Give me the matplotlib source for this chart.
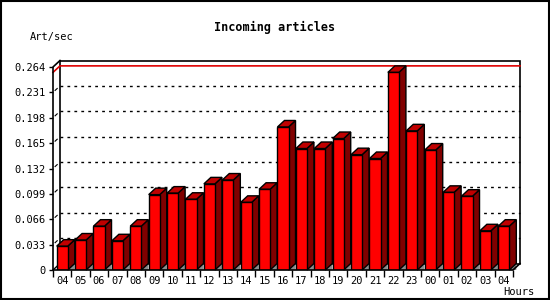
import matplotlib
matplotlib.use("Agg")
import matplotlib.pyplot as plt
from matplotlib.patches import Polygon, Rectangle
from matplotlib.lines import Line2D

# Data
hours = ["04", "05", "06", "07", "08", "09", "10", "11", "12", "13", "14", "15",
         "16", "17", "18", "19", "20", "21", "22", "23", "00", "01", "02", "03", "04"]
rate = [0.031, 0.039, 0.057, 0.038, 0.057, 0.098, 0.100, 0.092, 0.112, 0.117,
        0.088, 0.105, 0.186, 0.158, 0.158, 0.171, 0.150, 0.145, 0.257, 0.181,
        0.156, 0.101, 0.096, 0.051, 0.057]
yticks = [0, 0.033, 0.066, 0.099, 0.132, 0.165, 0.198, 0.231, 0.264]
ytick_labels = ["0", "0.033", "0.066", "0.099", "0.132", "0.165", "0.198", "0.231", "0.264"]

FRONT = "#ff0000"
TOP = "#c00000"
SIDE = "#800000"
FLOOR = "#8c8c8c"
mono = "DejaVu Sans Mono"

W, H = 550, 300
fig = plt.figure(figsize=(W / 100, H / 100), dpi=100)
fig.patch.set_facecolor("white")

# front plane of the 3d box, in pixels
x0, x1, y0, y1 = 53, 513, 270, 67
ax = fig.add_axes([x0 / W, 1 - y0 / H, (x1 - x0) / W, (y0 - y1) / H])
ax.set_facecolor("none")
n = len(rate)
ax.set_xlim(-0.5, n - 0.5)
ax.set_ylim(0, yticks[-1])
for s in ax.spines.values():
    s.set_visible(False)

# depth offset (pixels -> data units)
depth_px_x, depth_px_y = 7, 6.5
dx = depth_px_x * n / (x1 - x0)
dy = depth_px_y * yticks[-1] / (y0 - y1)
xl, xr = -0.5, n - 0.5
ytop = yticks[-1]

# back wall
ax.add_patch(Polygon([(xl + dx, dy), (xr + dx, dy), (xr + dx, ytop + dy), (xl + dx, ytop + dy)],
                     closed=True, facecolor="white", edgecolor="black", lw=1.2,
                     clip_on=False, zorder=0))
# grid lines on back wall
for yv in yticks[1:-1]:
    ax.add_line(Line2D([xl + dx, xr + dx], [yv + dy, yv + dy], color="black",
                       lw=1, ls=(0, (2, 3)), clip_on=False, zorder=1))
    ax.add_line(Line2D([xl + dx * 0.3, xl + dx * 0.6], [yv + dy * 0.3, yv + dy * 0.6],
                       color="black", lw=0.8, clip_on=False, zorder=1))
# max line
mx = max(rate)
ax.add_line(Line2D([xl, xl + dx, xr + dx], [mx, mx + dy, mx + dy], color="#e00000",
                   lw=1.2, clip_on=False, zorder=1))

# 3d bars
w = 0.6
for i, v in enumerate(rate):
    a, b = i - w / 2, i + w / 2
    ax.add_patch(Polygon([(b, 0), (b + dx, dy), (b + dx, 0)], closed=True,
                         facecolor=FLOOR, edgecolor="none", zorder=2, clip_on=False))
    ax.add_patch(Polygon([(b, 0), (b + dx, dy), (b + dx, v + dy), (b, v)], closed=True,
                         facecolor=SIDE, edgecolor="black", lw=1, zorder=3, clip_on=False))
    ax.add_patch(Polygon([(a, v), (a + dx, v + dy), (b + dx, v + dy), (b, v)], closed=True,
                         facecolor=TOP, edgecolor="black", lw=1, zorder=3, clip_on=False))
ax.bar(range(n), rate, width=w, color=FRONT, edgecolor="black", lw=1, zorder=4)

# front axis edges
ax.add_line(Line2D([xl + dx, xl, xl, xr, xr + dx], [ytop + dy, ytop, 0, 0, dy],
                   color="black", lw=1.2, clip_on=False, zorder=5))
ax.add_line(Line2D([xl, xl + dx], [0, dy], color="black", lw=1, clip_on=False, zorder=1))

# ticks
ax.set_yticks(yticks)
ax.set_yticklabels(ytick_labels, family=mono, fontsize=7.5)
ax.tick_params(axis="y", length=3, width=1, pad=2)
ax.set_xticks(range(n))
ax.set_xticklabels(hours, family=mono, fontsize=7.5)
ax.set_xticks([i - 0.5 for i in range(n + 1)], minor=True)
ax.tick_params(axis="x", which="major", length=0, pad=4)
ax.tick_params(axis="x", which="minor", length=5, width=1)

fig.text(275 / W, 1 - 27 / H, "Incoming articles", family=mono, fontsize=8.5,
         fontweight="bold", ha="center", va="center")
fig.text(30 / W, 1 - 37 / H, "Art/sec", family=mono, fontsize=7.5, ha="left", va="center")
fig.text(534 / W, 1 - 292 / H, "Hours", family=mono, fontsize=7.5, ha="right", va="center")

# image border
fig.add_artist(Rectangle((0.001, 0.002), 0.997, 0.995, transform=fig.transFigure,
                         fill=False, edgecolor="black", lw=1.5))

fig.savefig("out.png", dpi=100)
